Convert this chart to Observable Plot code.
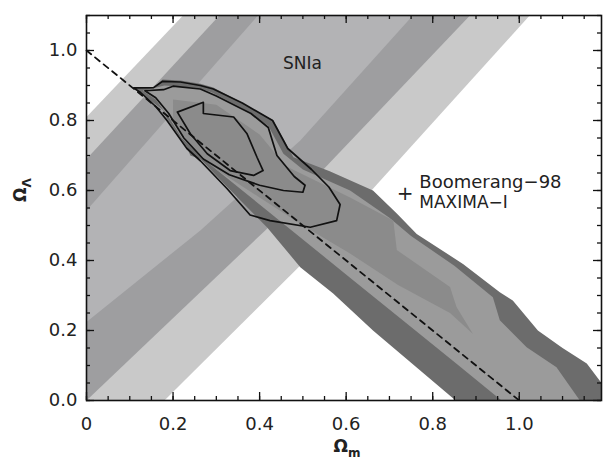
<!DOCTYPE html>
<html><head><meta charset="utf-8">
<script src="https://cdn.jsdelivr.net/npm/d3@7"></script>
<script src="https://cdn.jsdelivr.net/npm/@observablehq/plot@0.6"></script>
<style>body{margin:0;background:#fff}</style>
</head><body><div id="chart"></div>
<script>
// SNIa confidence bands (polygons, [Ωm, ΩΛ])
const snOuter = [[0,0],[0,0.81],[0.223,1.1],[1.024,1.1],[0.662,0.605],[0.494,0.386],[0.18,0]];
const snMid   = [[0,0],[0,0.69],[0.307,1.1],[0.886,1.1],[0.413,0.486]];
const snInner = [[0,0.224],[0,0.543],[0.396,1.1],[0.754,1.1],[0.494,0.743],[0.263,0.486]];
// Boomerang-98 + MAXIMA-I filled regions
const cmbOuter = [[0.109,0.893],[0.155,0.894],[0.176,0.917],[0.217,0.914],[0.263,0.905],[0.293,0.894],[0.36,0.85],[0.432,0.80],[0.478,0.695],[0.562,0.655],[0.662,0.6],[0.717,0.534],[0.763,0.476],[0.87,0.39],[0.955,0.309],[0.985,0.286],[1.043,0.2],[1.10,0.15],[1.156,0.106],[1.19,0.05],[1.19,0],[0.853,0],[0.662,0.2],[0.570,0.306],[0.494,0.381],[0.417,0.495],[0.325,0.61],[0.263,0.69],[0.24,0.70],[0.232,0.724],[0.186,0.805],[0.178,0.829]];
const cmbMid = [[0.13,0.885],[0.18,0.90],[0.26,0.893],[0.29,0.88],[0.36,0.835],[0.42,0.785],[0.455,0.705],[0.50,0.66],[0.609,0.60],[0.70,0.522],[0.75,0.47],[0.85,0.385],[0.939,0.295],[0.955,0.229],[1.017,0.152],[1.086,0.095],[1.14,0],[0.959,0],[0.855,0.105],[0.75,0.21],[0.609,0.351],[0.50,0.46],[0.42,0.54],[0.34,0.62],[0.28,0.68],[0.22,0.75],[0.19,0.81],[0.16,0.86]];
const cmbInner = [[0.20,0.86],[0.30,0.845],[0.40,0.76],[0.46,0.67],[0.609,0.58],[0.709,0.514],[0.717,0.43],[0.84,0.324],[0.855,0.267],[0.893,0.19],[0.84,0.25],[0.72,0.33],[0.609,0.42],[0.50,0.50],[0.40,0.58],[0.30,0.66],[0.24,0.73],[0.20,0.80]];
// combined contours (black outlines)
const loop1 = [[0.109,0.893],[0.155,0.894],[0.176,0.912],[0.217,0.91],[0.263,0.90],[0.293,0.89],[0.36,0.85],[0.43,0.80],[0.465,0.72],[0.52,0.66],[0.56,0.61],[0.586,0.56],[0.578,0.514],[0.517,0.495],[0.424,0.514],[0.378,0.53],[0.325,0.605],[0.263,0.685],[0.232,0.72],[0.186,0.80],[0.16,0.84],[0.125,0.88]];
const loop2 = [[0.135,0.885],[0.178,0.888],[0.20,0.898],[0.263,0.89],[0.30,0.87],[0.38,0.82],[0.42,0.78],[0.44,0.70],[0.48,0.64],[0.505,0.615],[0.50,0.595],[0.455,0.60],[0.40,0.615],[0.33,0.645],[0.27,0.69],[0.225,0.75],[0.19,0.82],[0.16,0.865]];
const loop3 = [[0.21,0.824],[0.27,0.852],[0.27,0.82],[0.34,0.81],[0.371,0.762],[0.394,0.695],[0.408,0.657],[0.386,0.643],[0.332,0.657],[0.279,0.705],[0.24,0.762]];
// flat universe line
const flatLine = [[0,1],[1,0]];
// ticks
const xMajor = [0,0.2,0.4,0.6,0.8,1.0];
const xLabels = ["0","0.2","0.4","0.6","0.8","1.0"];
const yMajor = [0,0.2,0.4,0.6,0.8,1.0];
const yLabels = ["0.0","0.2","0.4","0.6","0.8","1.0"];
const xMinor = d3.range(0,1.19,0.05).map(v=>+v.toFixed(2));
const yMinor = d3.range(0,1.1001,0.05).map(v=>+v.toFixed(2));
const XMAX = 1.19, YMAX = 1.1;

const font = "'DejaVu Sans', Verdana, sans-serif";
const poly = (data, fill) => Plot.line(data, {x: d=>d[0], y: d=>d[1], fill, stroke: "none", curve: "linear-closed"});
const loop = (data) => Plot.line(data, {x: d=>d[0], y: d=>d[1], stroke: "#111", strokeWidth: 1.7, curve: "linear-closed"});
const tx = 4/432.8, ty = 4/350;   // minor tick length (4px); major = 2x
const tk = {stroke: "#111", strokeWidth: 1.3};

const chart = Plot.plot({
  width: 603, height: 460,
  marginLeft: 86, marginRight: 2, marginTop: 15, marginBottom: 60,
  style: {fontFamily: font, fontSize: "18px", color: "#222", background: "#fff"},
  x: {domain: [0, XMAX], label: null},
  y: {domain: [0, YMAX], label: null},
  marks: [
    poly(snOuter, "#c9c9c9"),
    poly(snMid, "#9e9ea0"),
    poly(snInner, "#b3b3b5"),
    poly(cmbOuter, "#6c6c6c"),
    poly(cmbMid, "#9b9b9b"),
    poly(cmbInner, "#8b8b8b"),
    loop(loop1), loop(loop2), loop(loop3),
    Plot.line(flatLine, {x: d=>d[0], y: d=>d[1], stroke: "#111", strokeWidth: 1.8, strokeDasharray: "6,5"}),
    Plot.text(["SNIa"], {x: 0.499, y: 0.964, text: d=>d, fontSize: 17, fill: "#222"}),
    Plot.text(["+"], {x: 0.736, y: 0.591, text: d=>d, fontSize: 20, fill: "#222"}),
    Plot.text(["Boomerang\u221298"], {x: 0.769, y: 0.624, text: d=>d, textAnchor: "start", fontSize: 18, fill: "#222"}),
    Plot.text(["MAXIMA\u2212I"], {x: 0.769, y: 0.566, text: d=>d, textAnchor: "start", fontSize: 17, fill: "#222"}),
    // inward ticks on all four sides
    Plot.ruleX(xMajor, {x: d=>d, y1: 0, y2: 2*ty, ...tk}),
    Plot.ruleX(xMinor, {x: d=>d, y1: 0, y2: ty, ...tk}),
    Plot.ruleX(xMajor, {x: d=>d, y1: YMAX-2*ty, y2: YMAX, ...tk}),
    Plot.ruleX(xMinor, {x: d=>d, y1: YMAX-ty, y2: YMAX, ...tk}),
    Plot.ruleY(yMajor, {y: d=>d, x1: 0, x2: 2*tx, ...tk}),
    Plot.ruleY(yMinor, {y: d=>d, x1: 0, x2: tx, ...tk}),
    Plot.ruleY(yMajor, {y: d=>d, x1: XMAX-2*tx, x2: XMAX, ...tk}),
    Plot.ruleY(yMinor, {y: d=>d, x1: XMAX-tx, x2: XMAX, ...tk}),
    Plot.frame({stroke: "#111", strokeWidth: 1.6}),
    Plot.axisX({ticks: xMajor, tickFormat: (d)=>xLabels[xMajor.indexOf(d)], tickSize: 0, tickPadding: 17, label: null, fontSize: 18}),
    Plot.axisY({ticks: yMajor, tickFormat: (d)=>yLabels[yMajor.indexOf(d)], tickSize: 0, tickPadding: 9, label: null, fontSize: 18})
  ]
});
document.getElementById("chart").appendChild(chart);

// axis titles with subscripts as real text
const svg = d3.select(chart);
svg.append("text").attr("x", 347).attr("y", 452)
  .attr("text-anchor", "middle").attr("font-size", 17).attr("font-weight", "bold").attr("fill", "#222")
  .attr("font-family", font)
  .call(t => { t.append("tspan").text("\u03A9"); t.append("tspan").attr("font-size", 12).attr("dy", 5).text("m"); });
svg.append("text").attr("x", 0).attr("y", 0)
  .attr("transform", "translate(26,190) rotate(-90)")
  .attr("text-anchor", "middle").attr("font-size", 17).attr("font-weight", "bold").attr("fill", "#222")
  .attr("font-family", font)
  .call(t => { t.append("tspan").text("\u03A9"); t.append("tspan").attr("font-size", 12).attr("dy", 5).text("\u039B"); });
</script>
</body></html>
